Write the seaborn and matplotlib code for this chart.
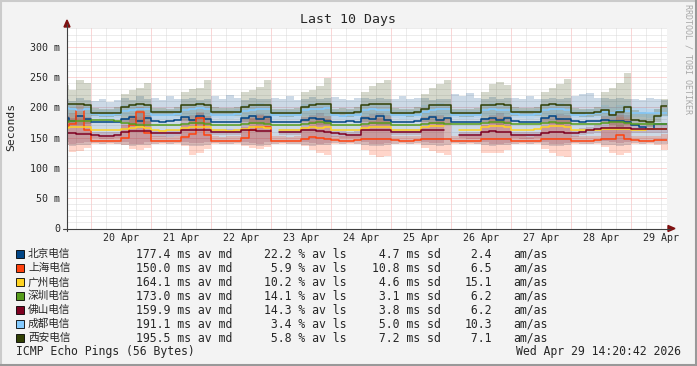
import numpy as np
import pandas as pd
import seaborn as sns
import matplotlib
matplotlib.use("Agg")
from matplotlib import pyplot as plt
import matplotlib.dates as mdates
from matplotlib.ticker import MultipleLocator, FuncFormatter
from matplotlib.patches import Rectangle, Polygon
from matplotlib.lines import Line2D

W, H = 697, 366

# ---- legend / stats ----
names = ['北京电信', '上海电信', '广州电信', '深圳电信', '佛山电信', '成都电信', '西安电信']
colors = ['#004586', '#ff420e', '#ffd320', '#579d1c', '#7e0021', '#83caff', '#314004']
av_md = [177.4, 150.0, 164.1, 173.0, 159.9, 191.1, 195.5]
av_ls = [22.2, 5.9, 10.2, 14.1, 14.3, 3.4, 5.8]
sd = [4.7, 10.8, 4.6, 3.1, 3.8, 5.0, 7.2]
am_as = [2.4, 6.5, 15.1, 6.2, 6.2, 10.3, 7.1]
day_labels = ['20 Apr', '21 Apr', '22 Apr', '23 Apr', '24 Apr',
              '25 Apr', '26 Apr', '27 Apr', '28 Apr', '29 Apr']
y_ticks = [0, 50, 100, 150, 200, 250, 300]

# 3-hourly samples, 19 Apr 12:00 .. 29 Apr 12:00
times = pd.date_range('2026-04-19 12:00', periods=81, freq='3h')
nan = np.nan

# ---- median rtt (ms) ----
bj_med = [182, 178, 185, 180,
          176, 175, 176, 175, 180, 184, 178, 183,
          178, 176, 177, 179, 184, 179, 185, 181,
          176, 175, 175, 176, 182, 185, 180, 184,
          175, 176, 175, 176, 179, 183, 181, 178,
          176, 175, 177, 176, 183, 180, 185, 179,
          176, 175, 176, 177, 181, 184, 179, 183,
          176, 176, 175, 176, 180, 182, 179, 183,
          177, 175, 176, 176, 182, 185, 181, 180,
          177, 176, 177, 178, 179, 178, 178, 175,
          170, 167, 164, 172, 173]
sh_med = [168, 172, 196, 162,
          145, 144, 144, 145, 150, 170, 192, 158,
          145, 144, 144, 145, 151, 156, 182, 155,
          145, 144, 145, 145, 150, 163, 167, 168,
          145, 145, 144, 145, 147, 151, 149, 148,
          146, 145, 145, 146, 148, 148, 147, 147,
          146, 145, 145, 146, 147, 148, 148, 147,
          145, 145, 145, 145, 147, 148, 148, 147,
          145, 145, 144, 145, 147, 148, 147, 147,
          145, 145, 145, 146, 147, 148, 155, 147,
          146, 145, 145, 146, 146]
gz_med = [166, 167, 168, 167,
          162, 162, 162, 163, 165, 166, 167, 166,
          162, 161, 162, 163, 166, 167, 168, 167,
          162, 162, 161, 162, 165, 167, 167, 166,
          nan, 162, 162, 163, 166, 167, 166, 167,
          162, 162, 162, 163, 166, 167, 168, 167,
          162, 162, 162, 163, 167, 169, 169, nan,
          nan, 163, 163, 163, 168, 169, 169, 168,
          163, 163, 163, 164, 168, 169, 169, 168,
          163, 163, 163, 163, 165, 164, 165, 164,
          163, 163, 164, 165, 165]
sz_med = [176, 177, 178, 178,
          179, 179, 179, 178, 174, 172, 171, 171,
          171, 171, 171, 171, 173, 174, 174, 173,
          171, 171, 170, 171, 173, 174, 174, 173,
          171, 170, 170, 171, 173, 174, 175, 174,
          171, 171, 171, 171, 173, 174, 174, 174,
          171, 171, 171, 171, 173, 174, 174, 173,
          172, 172, 172, 172, 174, 175, 175, 174,
          172, 172, 172, 172, 174, 175, 174, 174,
          173, 173, 173, 173, 174, 175, 176, 174,
          173, 172, 172, 172, 172]
fs_med = [157, 157, 156, 156,
          154, 153, 153, 154, 160, 161, 161, 161,
          157, 157, 157, 158, 163, 163, 163, 162,
          160, 160, 160, 160, 162, 162, 161, 161,
          nan, 160, 160, 160, 162, 163, 161, 160,
          157, 156, 155, 155, 162, 163, 163, 163,
          160, 160, 160, 160, 163, 163, 163, nan,
          nan, 155, 154, 154, 160, 161, 160, 160,
          155, 154, 154, 155, 158, 159, 159, 158,
          157, 160, 163, 165, 166, 166, 166, 166,
          165, 165, 165, 165, 165]
cd_med = [199, 197, 196, 197,
          189, 188, 188, 189, 194, 196, 197, 197,
          188, 187, 187, 189, 195, 197, 198, 197,
          188, 187, 188, 189, 194, 196, 197, 197,
          188, 187, 187, 188, 195, 197, 197, 198,
          187, 186, 187, 188, 195, 197, 196, 196,
          188, 187, 187, 188, 193, 196, 197, 197,
          188, 188, 187, 188, 195, 197, 196, 196,
          189, 188, 188, 189, 196, 197, 197, 196,
          188, 188, 189, 190, 193, 191, 194, 194,
          191, 191, 190, 190, 191]
xa_med = [205, 206, 205, 204,
          191, 190, 190, 191, 201, 203, 205, 204,
          193, 192, 192, 193, 203, 204, 205, 203,
          193, 192, 192, 193, 201, 203, 204, 203,
          191, 191, 190, 191, 201, 204, 205, 205,
          191, 191, 190, 192, 204, 206, 205, 205,
          191, 191, 191, 192, 197, 203, 204, 203,
          191, 191, 190, 191, 203, 204, 205, 204,
          193, 192, 192, 193, 204, 205, 204, 203,
          191, 191, 191, 192, 196, 187, 192, 201,
          179, 178, 175, 186, 202]

# ---- smoke (min / max of pings, ms) ----
bj_lo = [137, 136, 137, 138,
         141, 140, 141, 140, 138, 136, 137, 138,
         140, 141, 140, 141, 137, 136, 136, 138,
         141, 140, 140, 141, 138, 137, 136, 138,
         140, 141, 140, 140, 138, 136, 137, 138,
         141, 140, 141, 140, 137, 136, 136, 137,
         140, 141, 140, 141, 138, 137, 136, 138,
         141, 140, 141, 140, 137, 136, 137, 138,
         140, 141, 140, 141, 138, 136, 136, 137,
         141, 140, 140, 141, 138, 137, 136, 138,
         141, 140, 141, 140, 139]
bj_hi = [214, 210, 216, 212,
         210, 214, 208, 212, 216, 212, 218, 213,
         216, 212, 218, 214, 213, 216, 212, 214,
         218, 214, 220, 215, 212, 216, 214, 213,
         216, 213, 218, 212, 214, 217, 213, 215,
         217, 214, 212, 216, 215, 213, 216, 214,
         214, 218, 213, 216, 215, 212, 214, 213,
         222, 218, 224, 216, 214, 217, 213, 215,
         216, 213, 218, 214, 213, 216, 214, 215,
         218, 222, 224, 216, 215, 213, 216, 214,
         214, 212, 216, 213, 212]
sh_lo = [137, 126, 128, 133,
         139, 139, 140, 139, 138, 132, 130, 133,
         139, 140, 139, 139, 136, 121, 124, 132,
         139, 139, 140, 139, 136, 133, 132, 134,
         140, 139, 139, 140, 136, 130, 125, 121,
         139, 139, 140, 139, 130, 122, 118, 120,
         140, 139, 139, 140, 133, 128, 125, 121,
         139, 140, 139, 139, 124, 124, 125, 130,
         139, 139, 140, 139, 132, 125, 120, 118,
         140, 139, 139, 140, 134, 124, 121, 124,
         140, 139, 139, 138, 130]
sh_hi = [185, 190, 205, 180,
         152, 151, 151, 152, 170, 188, 200, 178,
         152, 152, 151, 152, 170, 180, 192, 175,
         152, 151, 152, 152, 168, 182, 188, 186,
         152, 152, 151, 152, 168, 178, 182, 180,
         153, 152, 152, 153, 170, 178, 182, 180,
         153, 152, 152, 153, 168, 176, 180, 182,
         152, 152, 152, 152, 170, 180, 182, 178,
         152, 152, 151, 152, 168, 176, 182, 180,
         152, 152, 152, 153, 168, 178, 188, 180,
         153, 152, 152, 153, 156]
fs_lo = [142, 140, 141, 142,
         149, 148, 148, 149, 142, 140, 140, 142,
         151, 151, 151, 152, 143, 141, 141, 142,
         154, 154, 154, 154, 143, 141, 140, 142,
         nan, 154, 154, 154, 143, 141, 140, 141,
         151, 150, 149, 149, 142, 140, 139, 141,
         154, 154, 154, 154, 143, 141, 141, nan,
         nan, 149, 148, 148, 142, 140, 139, 141,
         149, 148, 148, 149, 142, 140, 139, 141,
         151, 154, 156, 158, 145, 142, 141, 143,
         158, 158, 158, 158, 157]
fs_hi = [185, 182, 188, 184,
         160, 159, 159, 160, 182, 186, 190, 187,
         162, 162, 162, 163, 184, 188, 190, 186,
         165, 164, 164, 165, 183, 187, 189, 188,
         nan, 165, 164, 165, 184, 188, 190, 186,
         162, 161, 160, 161, 185, 189, 191, 188,
         165, 165, 164, 165, 184, 187, 188, nan,
         nan, 160, 159, 160, 183, 187, 190, 186,
         160, 159, 159, 160, 182, 186, 189, 187,
         163, 166, 168, 171, 186, 190, 192, 188,
         171, 170, 170, 171, 174]
cd_lo = [184, 184, 183, 184,
         182, 181, 181, 182, 185, 184, 184, 185,
         181, 181, 180, 182, 185, 185, 186, 185,
         182, 181, 181, 182, 184, 185, 185, 184,
         181, 181, 180, 181, 185, 186, 185, 186,
         181, 180, 181, 181, 185, 186, 185, 185,
         182, 181, 181, 182, 184, 185, 186, 185,
         182, 181, 181, 182, 185, 186, 185, 185,
         182, 182, 181, 182, 186, 186, 185, 185,
         182, 182, 183, 183, 184, 183, 184, 184,
         184, 184, 183, 183, 184]
cd_hi = [207, 205, 206, 206,
         196, 195, 195, 197, 204, 206, 207, 206,
         196, 195, 196, 197, 205, 206, 208, 206,
         196, 195, 196, 197, 204, 206, 207, 206,
         196, 195, 195, 196, 205, 207, 207, 207,
         195, 194, 195, 196, 205, 207, 206, 206,
         196, 195, 195, 196, 203, 206, 207, 206,
         196, 196, 195, 196, 205, 207, 206, 206,
         197, 196, 196, 197, 206, 207, 207, 206,
         196, 196, 197, 198, 203, 201, 204, 204,
         199, 199, 198, 198, 199]
xa_lo = [175, 172, 170, 172,
         185, 184, 184, 185, 176, 172, 170, 173,
         186, 185, 185, 186, 177, 173, 171, 172,
         186, 185, 185, 186, 176, 172, 171, 173,
         185, 184, 184, 185, 176, 173, 170, 171,
         185, 184, 184, 186, 176, 172, 170, 171,
         185, 185, 184, 186, 175, 172, 171, 172,
         185, 184, 184, 185, 176, 172, 170, 172,
         186, 185, 185, 186, 176, 173, 171, 172,
         185, 184, 184, 185, 175, 170, 168, 170,
         172, 170, 168, 175, 186]
xa_hi = [237, 228, 245, 240,
         199, 198, 198, 200, 222, 228, 232, 240,
         199, 199, 198, 201, 225, 230, 232, 245,
         200, 199, 199, 200, 225, 228, 233, 245,
         198, 198, 197, 199, 225, 228, 235, 248,
         198, 199, 197, 200, 225, 235, 240, 245,
         199, 198, 198, 200, 222, 232, 238, 245,
         198, 198, 197, 199, 226, 238, 242, 236,
         200, 199, 199, 201, 225, 232, 238, 246,
         199, 198, 198, 200, 225, 232, 240, 256,
         195, 192, 190, 198, 214]

medians = [bj_med, sh_med, gz_med, sz_med, fs_med, cd_med, xa_med]
smoke = [(bj_lo, bj_hi, 0, 0.20), (sh_lo, sh_hi, 1, 0.22), (fs_lo, fs_hi, 4, 0.16),
         (cd_lo, cd_hi, 5, 0.25), (xa_lo, xa_hi, 6, 0.20)]

times_ext = times.append(pd.DatetimeIndex([times[-1] + pd.Timedelta(hours=3)]))


def runs(*arrays):
    """ contiguous non-nan runs, extended one step for steps-post """
    arrs = [np.asarray(a, dtype=float) for a in arrays]
    ok = np.all([~np.isnan(a) for a in arrs], axis=0)
    out = []
    i, n = 0, len(ok)
    while i < n:
        if not ok[i]:
            i += 1
            continue
        j = i
        while j + 1 < n and ok[j + 1]:
            j += 1
        t = times_ext[i:j + 2]
        vals = [np.append(a[i:j + 1], a[j]) for a in arrs]
        out.append((t, vals))
        i = j + 1
    return out


def px(x, y):
    return x / W, 1 - y / H


sns.set_style("white")
plt.rcParams['font.family'] = ['DejaVu Sans Mono', 'Noto Sans CJK SC']

fig = plt.figure(figsize=(W / 100, H / 100), dpi=100, facecolor='#F3F3F3')
ax = fig.add_axes([67 / W, 1 - 228.5 / H, 600 / W, 200 / H])
ax.set_facecolor('white')

# smoke
for lo, hi, ci, a in smoke:
    for t, (l, h) in runs(lo, hi):
        ax.fill_between(t, l, h, step='post', color=colors[ci], alpha=a,
                        linewidth=0, zorder=2)

# median lines
for vals, c in zip(medians, colors):
    for t, (v,) in runs(vals):
        sns.lineplot(x=t, y=v, ax=ax, color=c, linewidth=1.1,
                     drawstyle='steps-post', legend=False,
                     estimator=None, sort=False, zorder=3)

ax.set_xlim(pd.Timestamp('2026-04-19 14:20:42'), pd.Timestamp('2026-04-29 14:20:42'))
ax.set_ylim(0, 330)
ax.set_xlabel('')
ax.set_ylabel('')

ax.xaxis.set_major_locator(mdates.DayLocator())
ax.xaxis.set_minor_locator(mdates.HourLocator(byhour=[6, 12, 18]))
ax.yaxis.set_minor_locator(MultipleLocator(10))
ax.set_yticks(y_ticks)
ax.yaxis.set_major_formatter(FuncFormatter(lambda v, p: '0' if v == 0 else f'{v:.0f} m'))
ax.grid(which='major', color='#F6B0B0', linestyle=(0, (1, 1)), linewidth=0.72)
ax.grid(which='minor', color='#DADADA', linestyle=(0, (1, 1)), linewidth=0.72)
ax.set_axisbelow(True)
ax.tick_params(which='major', length=2, width=0.72, color='#E06060', direction='out',
               labelsize=7.2, pad=3, labelbottom=False)
ax.tick_params(which='minor', length=2, width=0.72, color='#A8A8A8', direction='out')
for s in ax.spines.values():
    s.set_visible(False)

# day labels at noon
label_days = pd.date_range('2026-04-20 12:00', periods=10, freq='D')
for d, lab in zip(label_days, day_labels):
    ax.text(d, -0.0475, lab, transform=ax.get_xaxis_transform(), ha='center',
            va='center', fontsize=7.2)

# axes with arrows
fig.add_artist(Line2D(*zip(px(67, 231), px(67, 24)), color='#404040', lw=0.8))
fig.add_artist(Line2D(*zip(px(63, 228.5), px(670, 228.5)), color='#404040', lw=0.8))
fig.add_artist(Polygon([px(64, 27), px(70, 27), px(67, 20)], closed=True,
                       color='#7F1010', transform=fig.transFigure))
fig.add_artist(Polygon([px(668, 225.5), px(668, 231.5), px(675, 228.5)], closed=True,
                       color='#7F1010', transform=fig.transFigure))

# texts
fig.text(*px(348, 19), 'Last 10 Days', ha='center', va='center', fontsize=9.5)
fig.text(*px(11, 127), 'Seconds', ha='center', va='center', rotation=90, fontsize=8.2)
fig.text(*px(688, 59), 'RRDTOOL / TOBI OETIKER', ha='center', va='center',
         rotation=270, fontsize=6, color='#A8A8A8')

row_y = [254, 268, 282, 296, 310, 324, 338]
for k, y in enumerate(row_y):
    fig.add_artist(Rectangle(px(15.5, y + 4), 8 / W, 8 / H, facecolor=colors[k],
                             edgecolor='black', linewidth=0.6, transform=fig.transFigure))
    fig.text(*px(28, y), names[k], ha='left', va='center', fontsize=7.7,
             family=['Noto Sans CJK SC'])
    fig.text(*px(136.5, y), f'{av_md[k]:5.1f} ms av md', ha='left', va='center', fontsize=8.3)
    fig.text(*px(264, y), f'{av_ls[k]:4.1f} % av ls', ha='left', va='center', fontsize=8.3)
    fig.text(*px(371.5, y), f'{sd[k]:4.1f} ms sd', ha='left', va='center', fontsize=8.3)
    fig.text(*px(464.3, y), f'{am_as[k]:4.1f}', ha='left', va='center', fontsize=8.3)
    fig.text(*px(513.3, y), 'am/as', ha='left', va='center', fontsize=8.3)

fig.text(*px(16.5, 352), 'ICMP Echo Pings (56 Bytes)', ha='left', va='center', fontsize=8.3)
fig.text(*px(681, 352), 'Wed Apr 29 14:20:42 2026', ha='right', va='center', fontsize=8.3)

# 3d frame
fig.add_artist(Line2D([0, 1], [1 - 0.5 / H] * 2, color='#CBCBCB', lw=1.5))
fig.add_artist(Line2D([0.5 / W] * 2, [0, 1], color='#CBCBCB', lw=1.5))
fig.add_artist(Line2D([0, 1], [1 / H] * 2, color='#999999', lw=1.5))
fig.add_artist(Line2D([1 - 1 / W] * 2, [0, 1], color='#999999', lw=1.5))

fig.savefig('out.png', dpi=100, facecolor=fig.get_facecolor())
